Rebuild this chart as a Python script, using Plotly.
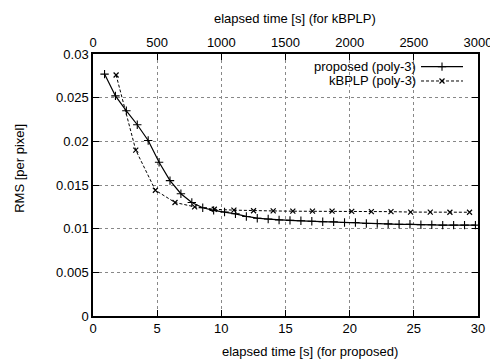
import plotly.graph_objects as go

# proposed (poly-3): elapsed time [s] on bottom axis
proposed_time = [0.9, 1.75, 2.6, 3.45, 4.3, 5.15, 6.0, 6.85, 7.7, 8.55,
                 9.4, 10.25, 11.1, 11.95, 12.8, 13.65, 14.5, 15.35, 16.2, 17.05,
                 17.9, 18.75, 19.6, 20.45, 21.3, 22.15, 23.0, 23.85, 24.7, 25.55,
                 26.4, 27.25, 28.1, 28.95, 29.8]
proposed_rms = [0.0277, 0.0252, 0.0235, 0.0219, 0.0201, 0.0176, 0.0155, 0.0140, 0.0130, 0.0124,
                0.0121, 0.0119, 0.0117, 0.0114, 0.0112, 0.0111, 0.0110, 0.01095, 0.0109, 0.01085,
                0.0108, 0.0108, 0.0107, 0.0107, 0.0106, 0.0106, 0.01055, 0.0105, 0.0105, 0.01045,
                0.01045, 0.0104, 0.0104, 0.0104, 0.0104]

# kBPLP (poly-3): elapsed time [s] on top axis
kbplp_time = [180, 333, 486, 639, 792, 945, 1098, 1251, 1404, 1557,
              1710, 1863, 2016, 2169, 2322, 2475, 2628, 2781, 2934]
kbplp_rms = [0.0276, 0.0190, 0.0144, 0.0130, 0.0125, 0.01222, 0.01212, 0.01205, 0.01203, 0.0120,
             0.0120, 0.0120, 0.01198, 0.01196, 0.01195, 0.0119, 0.0119, 0.01188, 0.01188]

bottom_ticks = [0, 5, 10, 15, 20, 25, 30]
top_ticks = [0, 500, 1000, 1500, 2000, 2500, 3000]
y_ticks = [0, 0.005, 0.01, 0.015, 0.02, 0.025, 0.03]
y_tick_labels = ["0", "0.005", "0.01", "0.015", "0.02", "0.025", "0.03"]

FONT = "Liberation Sans, Arial, sans-serif"
TXT = dict(family=FONT, size=13, color="black")

fig = go.Figure()
fig.add_trace(go.Scatter(
    x=proposed_time, y=proposed_rms, mode="lines+markers", name="proposed (poly-3)",
    line=dict(color="black", width=1.2),
    marker=dict(symbol="cross-thin", size=6, line=dict(color="black", width=1.1)),
    xaxis="x", yaxis="y", showlegend=False))
fig.add_trace(go.Scatter(
    x=kbplp_time, y=kbplp_rms, mode="lines+markers", name="kBPLP (poly-3)",
    line=dict(color="black", width=1, dash="3px,2px"),
    marker=dict(symbol="x-thin", size=5, line=dict(color="black", width=1.2)),
    xaxis="x2", yaxis="y", showlegend=False))

# legend samples on an overlay [0,1] axis pair
leg_x = [0.852, 0.961]
leg_y = [0.952, 0.897]
fig.add_trace(go.Scatter(x=leg_x, y=[leg_y[0]] * 2, mode="lines",
                         line=dict(color="black", width=1.2),
                         xaxis="x3", yaxis="y3", showlegend=False, hoverinfo="skip"))
fig.add_trace(go.Scatter(x=[sum(leg_x) / 2], y=[leg_y[0]], mode="markers",
                         marker=dict(symbol="cross-thin", size=6, line=dict(color="black", width=1.1)),
                         xaxis="x3", yaxis="y3", showlegend=False, hoverinfo="skip"))
fig.add_trace(go.Scatter(x=leg_x, y=[leg_y[1]] * 2, mode="lines",
                         line=dict(color="black", width=1, dash="3px,2px"),
                         xaxis="x3", yaxis="y3", showlegend=False, hoverinfo="skip"))
fig.add_trace(go.Scatter(x=[sum(leg_x) / 2], y=[leg_y[1]], mode="markers",
                         marker=dict(symbol="x-thin", size=5, line=dict(color="black", width=1.2)),
                         xaxis="x3", yaxis="y3", showlegend=False, hoverinfo="skip"))

axis_common = dict(
    showline=True, linecolor="black", linewidth=1.5,
    ticks="inside", ticklen=6, tickcolor="black", tickwidth=1,
    tickfont=TXT, zeroline=False, automargin=False,
)

# page body has an 8px default margin, so the figure is 490x353 to fill 498x361
fig.update_layout(
    width=490, height=353,
    margin=dict(l=85, r=20, t=46, b=45),
    paper_bgcolor="white", plot_bgcolor="white",
    font=TXT,
    xaxis=dict(range=[0, 30], tickvals=bottom_ticks, showgrid=True,
               gridcolor="#888888", griddash="dot", gridwidth=1,
               **axis_common),
    xaxis2=dict(range=[0, 3000], tickvals=top_ticks, overlaying="x", side="top",
                showgrid=False, anchor="y", **axis_common),
    yaxis=dict(range=[0, 0.03], tickvals=y_ticks, ticktext=y_tick_labels,
               showgrid=True, gridcolor="#888888", griddash="dot", gridwidth=1,
               mirror="ticks", **axis_common),
    xaxis3=dict(range=[0, 1], overlaying="x", visible=False, anchor="y3"),
    yaxis3=dict(range=[0, 1], overlaying="y", visible=False, anchor="x3"),
    annotations=[
        dict(text="RMS [per pixel]", xref="paper", yref="paper", x=-0.19, y=0.565,
             textangle=-90, showarrow=False, xanchor="center", yanchor="middle", font=TXT),
        dict(text="elapsed time [s] (for proposed)", xref="paper", yref="paper",
             x=0.564, y=-0.137, showarrow=False, xanchor="center", yanchor="middle", font=TXT),
        dict(text="elapsed time [s] (for kBPLP)", xref="paper", yref="paper",
             x=0.525, y=1.137, showarrow=False, xanchor="center", yanchor="middle", font=TXT),
        dict(text="proposed (poly-3)", xref="paper", yref="paper", x=0.845, y=leg_y[0],
             showarrow=False, xanchor="right", yanchor="middle", font=TXT),
        dict(text="kBPLP (poly-3)", xref="paper", yref="paper", x=0.845, y=leg_y[1],
             showarrow=False, xanchor="right", yanchor="middle", font=TXT),
    ],
)

fig.write_html("out.html")
